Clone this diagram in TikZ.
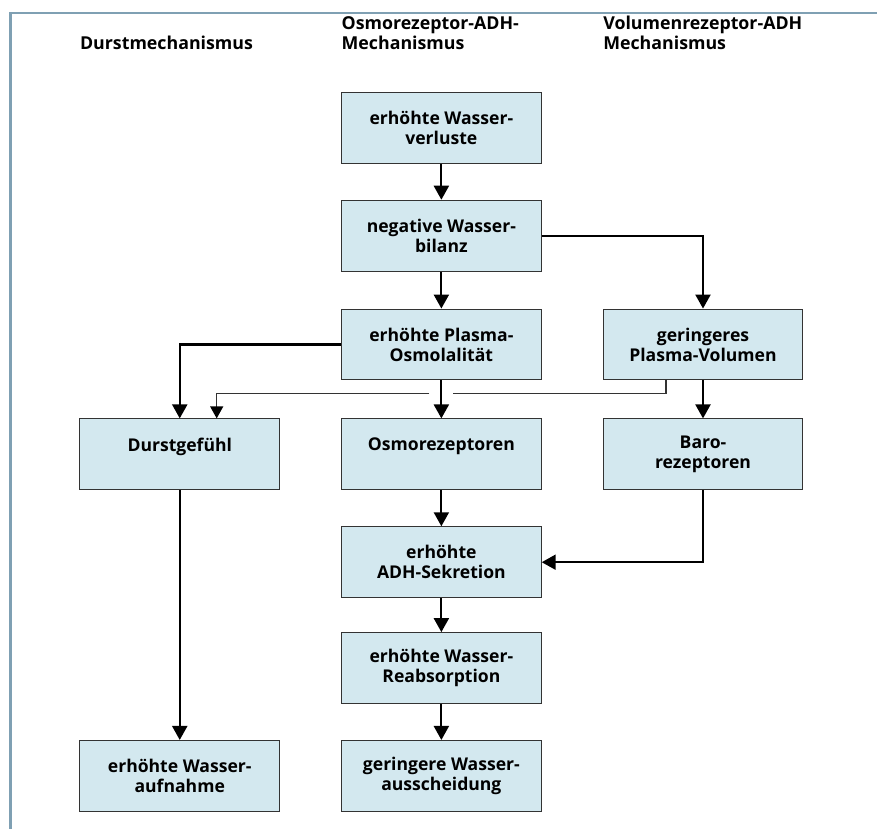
\documentclass[tikz,border=0pt]{standalone}
\usepackage{fontspec}
\setmainfont{Open Sans}
\usetikzlibrary{arrows.meta}
\definecolor{boxblue}{HTML}{D3E8EF}
\definecolor{framegray}{HTML}{7FA0B3}
\begin{document}
\begin{tikzpicture}[x=1pt, y=-1pt,
    box/.style={draw=black!80, fill=boxblue, line width=1pt, minimum width=200pt,
        minimum height=71pt, anchor=north, align=center, inner sep=0pt,
        font=\bfseries\fontsize{17.6}{20}\selectfont},
    head/.style={anchor=base west, align=left, inner sep=0pt,
        font=\bfseries\fontsize{17.8}{20}\selectfont},
    arr/.style={line width=2.2pt, -{Triangle[width=15pt,length=14pt]}},
    thinline/.style={line width=1.2pt, draw=black!80}]
    \path[fill=white] (0,0) rectangle (878,830);
    \draw[framegray, line width=2.5pt] (10.5,830) |- (878,13);

    % headings
    \node[head] (hdurst) at (80,50) {Durstmechanismus};
    \node[head] (hosmo) at (342,50) {Osmorezeptor-ADH-\\Mechanismus};
    \node[head] (hvol) at (604,50) {Volumenrezeptor-ADH\\Mechanismus};

    % middle column
    \node[box] (verl) at (442,92) {erhöhte Wasser-\\verluste};
    \node[box] (bil) at (442,200) {negative Wasser-\\bilanz};
    \node[box] (osmo) at (442,309) {erhöhte Plasma-\\Osmolalität};
    \node[box] (osrez) at (442,419) {Osmorezeptoren\\~};
    \node[box] (adh) at (442,527) {erhöhte\\ADH-Sekretion};
    \node[box] (reab) at (442,633) {erhöhte Wasser-\\Reabsorption};
    \node[box] (aus) at (442,741) {geringere Wasser-\\ausscheidung};

    % right column
    \node[box] (pvol) at (704,309) {geringeres\\Plasma-Volumen};
    \node[box] (baro) at (704,419) {Baro-\\rezeptoren};

    % left column
    \node[box] (durst) at (180,419) {Durstgefühl\\~};
    \node[box] (aufn) at (180,741) {erhöhte Wasser-\\aufnahme};

    % thin connection from volume to thirst
    \coordinate (bend) at ([yshift=-13pt]osmo.south);
    \draw[thinline] ([xshift=-37pt]pvol.south) |- ([xshift=12pt]bend);
    \draw[thinline, -{Triangle[width=13pt,length=12pt,color=black]}] ([xshift=-12pt]bend) -| ([xshift=37pt]durst.north);

    % arrows
    \draw[arr] (verl) -- (bil);
    \draw[arr] (bil) -- (osmo);
    \draw[arr] (bil.east) -| (pvol.north);
    \draw[arr] (osmo.west) -| (durst.north);
    \draw[arr] (osmo) -- (osrez);
    \draw[arr] (pvol) -- (baro);
    \draw[arr] (osrez) -- (adh);
    \draw[arr] (baro.south) |- (adh.east);
    \draw[arr] (adh) -- (reab);
    \draw[arr] (reab) -- (aus);
    \draw[arr] (durst) -- (aufn);
\end{tikzpicture}
\end{document}
